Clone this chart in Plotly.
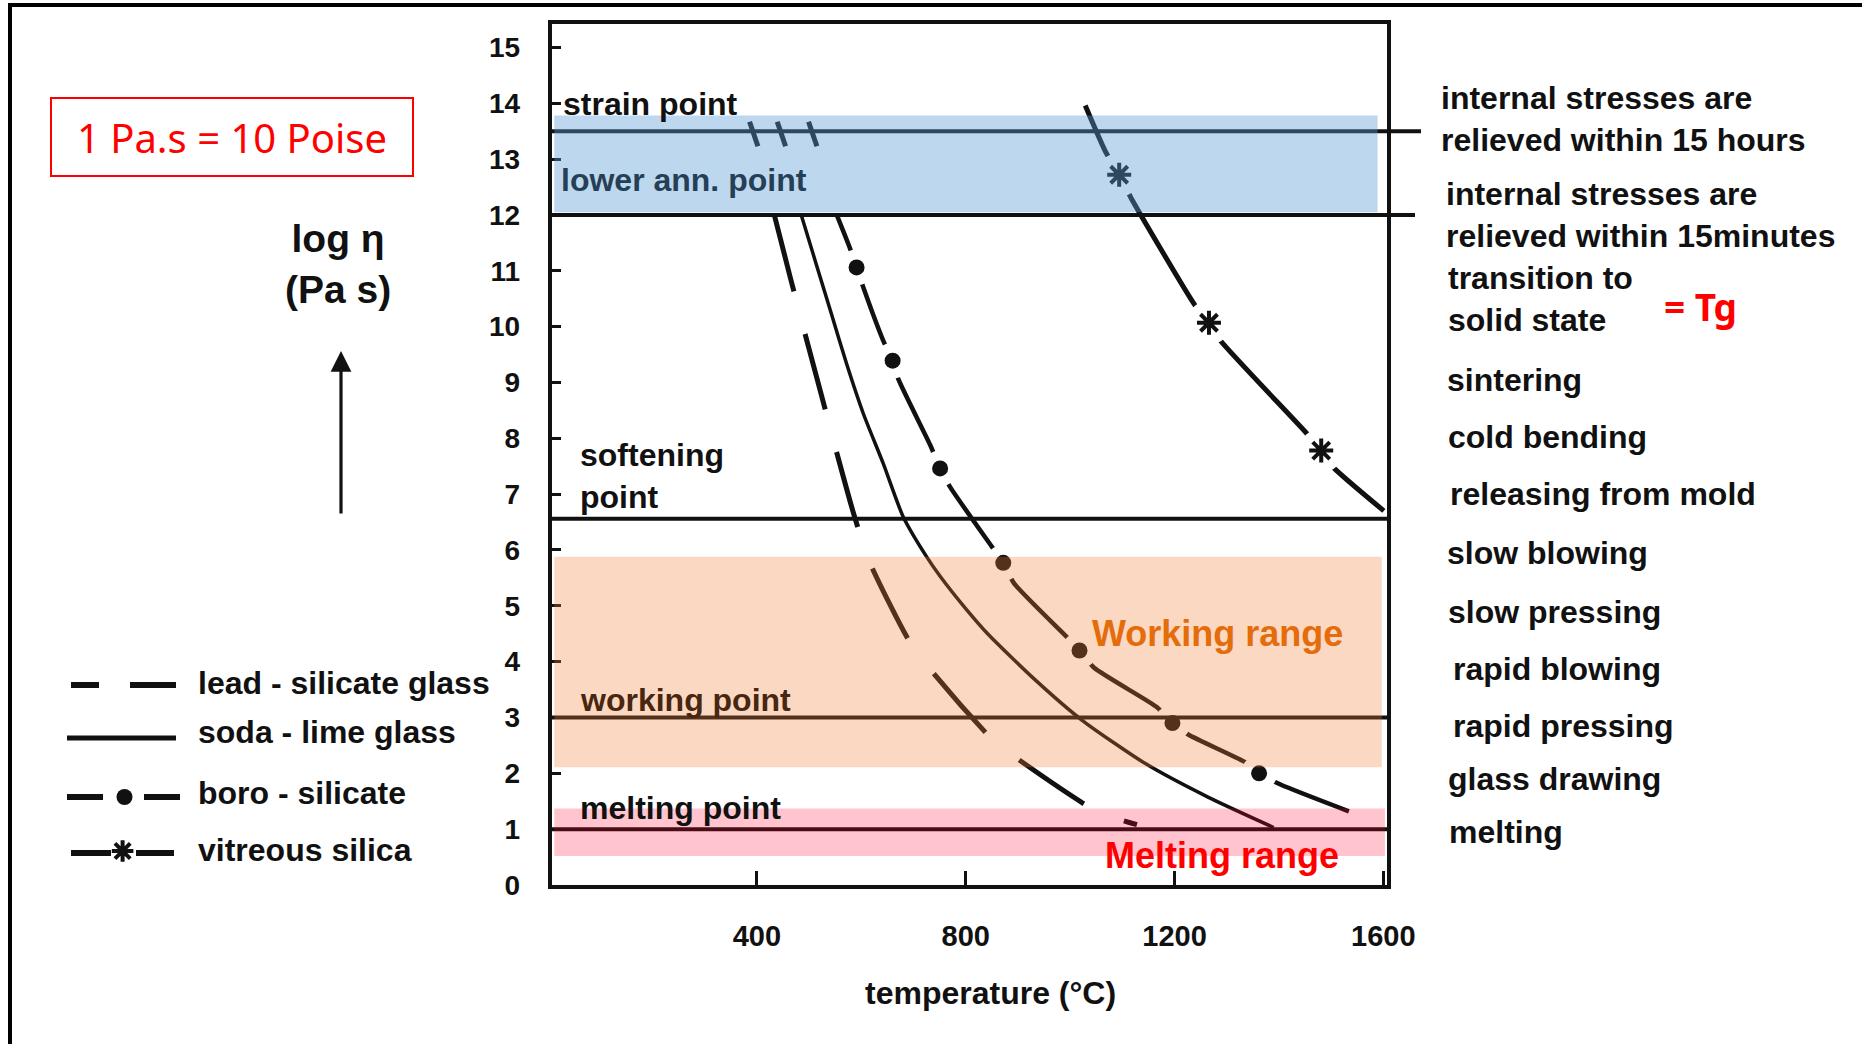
import plotly.graph_objects as go

W, H = 1862, 1044
INK = "#111111"

# ---------------- data ----------------
# lead-silicate glass (long dashes)
lead_T = [434, 464, 488, 522, 545, 586, 616, 693, 743, 853, 919, 1051, 1128]
lead_logeta = [11.98, 10.88, 10.02, 8.83, 8.02, 6.63, 5.78, 4.35, 3.74, 2.59, 2.13, 1.32, 1.08]

# soda-lime glass (solid)
soda_T = [485, 514, 543, 572, 604, 642, 680, 725, 751, 800, 842, 930, 1023, 1145, 1265, 1390]
soda_logeta = [12.0, 11.11, 10.22, 9.33, 8.44, 7.55, 6.60, 5.88, 5.53, 4.95, 4.50, 3.70, 2.95,
               2.17, 1.57, 1.03]

# boro-silicate (dash - dot)
boro_T = [553, 578, 591, 604, 642, 660, 671, 732, 751, 770, 850, 872, 892, 996, 1018,
          1046, 1167, 1196, 1227, 1337, 1362, 1403, 1534]
boro_logeta = [12.0, 11.41, 11.06, 10.70, 9.75, 9.39, 9.06, 7.88, 7.46, 7.13, 6.06, 5.77, 5.41,
               4.42, 4.20, 3.89, 3.18, 2.90, 2.69, 2.19, 2.00, 1.80, 1.32]
boro_dot_T = [591, 660, 751, 872, 1018, 1196, 1362]
boro_dot_logeta = [11.06, 9.39, 7.46, 5.77, 4.20, 2.90, 2.00]

# vitreous silica (dash - star)
silica_T = [1029, 1068, 1094, 1117, 1238, 1266, 1287, 1452, 1481, 1502, 1601]
silica_logeta = [13.96, 13.13, 12.72, 12.30, 10.40, 10.07, 9.76, 8.10, 7.78, 7.50, 6.70]
silica_star_T = [1094, 1266, 1481]
silica_star_logeta = [12.72, 10.07, 7.78]

# short crossings of the three glasses at the strain point
strain_cross_T = [386, 402, None, 439, 455, None, 499, 515]
strain_cross_logeta = [13.67, 13.23, None, 13.67, 13.23, None, 13.67, 13.23]

# reference viscosity levels (log eta)
strain_level = 13.5
lower_ann_level = 12.0
softening_level = 6.56
working_level = 3.0
melting_level = 1.0

# shaded ranges (log eta)
annealing_range = [12.05, 13.78]
working_range = [2.11, 5.88]
melting_range = [0.52, 1.37]

x_tick_vals = [400, 800, 1200, 1600]
y_tick_vals = list(range(0, 16))
right_tick_vals = [13.5, 12, 11, 9, 8, 7, 6, 5, 4, 3, 2, 1]

right_texts = [
    "internal stresses are<br>relieved within 15 hours",
    "internal stresses are<br>relieved within 15minutes",
    "transition to<br>solid state",
    "sintering",
    "cold bending",
    "releasing from mold",
    "slow blowing",
    "slow pressing",
    "rapid blowing",
    "rapid pressing",
    "glass drawing",
    "melting",
]
legend_texts = ["lead - silicate glass", "soda - lime glass", "boro - silicate", "vitreous silica"]

# ---------------- layout helpers ----------------
def fx(px):
    return px / W


def fy(py):
    return 1 - py / H


X_L, X_R, Y_T, Y_B = 551.7, 1387.0, 24.0, 885.0
X_RANGE = [7, 1607]
Y_RANGE = [0, 15.42]

fig = go.Figure()

# ---------------- curves ----------------
fig.add_trace(go.Scatter(
    x=lead_T, y=lead_logeta, mode="lines", hoverinfo="skip",
    line=dict(color=INK, width=5, dash="78px,44px", shape="spline", smoothing=0.6)))
fig.add_trace(go.Scatter(
    x=soda_T, y=soda_logeta, mode="lines", hoverinfo="skip",
    line=dict(color=INK, width=3.5, shape="spline", smoothing=0.6)))
fig.add_trace(go.Scatter(
    x=boro_T, y=boro_logeta, mode="lines", hoverinfo="skip",
    line=dict(color=INK, width=4.5, shape="spline", smoothing=0.6)))
fig.add_trace(go.Scatter(
    x=boro_dot_T, y=boro_dot_logeta, mode="markers", hoverinfo="skip",
    marker=dict(size=36, color="white", line=dict(width=0))))
fig.add_trace(go.Scatter(
    x=boro_dot_T, y=boro_dot_logeta, mode="markers", hoverinfo="skip",
    marker=dict(size=16, color=INK, line=dict(width=0))))
fig.add_trace(go.Scatter(
    x=silica_T, y=silica_logeta, mode="lines", hoverinfo="skip",
    line=dict(color=INK, width=5, shape="spline", smoothing=0.6)))
fig.add_trace(go.Scatter(
    x=silica_star_T, y=silica_star_logeta, mode="markers", hoverinfo="skip",
    marker=dict(size=44, color="white", line=dict(width=0))))
fig.add_trace(go.Scatter(
    x=silica_star_T, y=silica_star_logeta, mode="markers", hoverinfo="skip",
    marker=dict(symbol="asterisk", size=20, color=INK, line=dict(width=4, color=INK))))
fig.add_trace(go.Scatter(
    x=strain_cross_T, y=strain_cross_logeta, mode="lines", hoverinfo="skip",
    line=dict(color=INK, width=5)))

# ---------------- legend samples (helper axes x2 / y3, pixel-like units) ----------------
LEG = dict(xaxis="x2", yaxis="y3", hoverinfo="skip")
fig.add_trace(go.Scatter(x=[71, 99, None, 130, 176], y=[685, 685, None, 685, 685],
                         mode="lines", line=dict(color=INK, width=6), **LEG))
fig.add_trace(go.Scatter(x=[67, 176], y=[738, 738], mode="lines",
                         line=dict(color=INK, width=5), **LEG))
fig.add_trace(go.Scatter(x=[67, 103, None, 144, 180], y=[797, 797, None, 797, 797],
                         mode="lines", line=dict(color=INK, width=6), **LEG))
fig.add_trace(go.Scatter(x=[124.5], y=[797], mode="markers",
                         marker=dict(size=16, color=INK), **LEG))
fig.add_trace(go.Scatter(x=[71, 111, None, 136, 174], y=[853, 853, None, 853, 853],
                         mode="lines", line=dict(color=INK, width=6), **LEG))
fig.add_trace(go.Scatter(x=[122.6], y=[851], mode="markers",
                         marker=dict(symbol="asterisk", size=18, color=INK,
                                     line=dict(width=4, color=INK)), **LEG))

# ---------------- reference lines and shaded ranges ----------------
shapes = []
for lvl, x1px in [(strain_level, 1421), (lower_ann_level, 1415), (softening_level, X_R),
                  (working_level, X_R), (melting_level, X_R)]:
    shapes.append(dict(type="line", xref="paper", yref="y", x0=fx(X_L), x1=fx(x1px),
                       y0=lvl, y1=lvl, line=dict(color=INK, width=4), layer="above"))
for (lo, hi), col, xr in [(annealing_range, "rgba(91,155,213,0.40)", 1589),
                          (working_range, "rgba(237,125,49,0.30)", 1597),
                          (melting_range, "rgba(255,0,40,0.23)", 1603)]:
    shapes.append(dict(type="rect", xref="x", yref="y", x0=12, x1=xr, y0=lo, y1=hi,
                       fillcolor=col, line=dict(width=0), layer="above"))
# slide frame
shapes.append(dict(type="line", xref="paper", yref="paper", x0=fx(8), x1=1, y0=fy(5), y1=fy(5),
                   line=dict(color="black", width=4)))
shapes.append(dict(type="line", xref="paper", yref="paper", x0=fx(10), x1=fx(10), y0=fy(3), y1=0,
                   line=dict(color="black", width=4)))

# ---------------- text ----------------
BOLD = dict(family="Liberation Sans, Arial, sans-serif", size=32, color=INK, weight="bold")
ann = []


def txt(text, px, py, xanchor="left", font=None, **kw):
    f = dict(BOLD)
    if font:
        f.update(font)
    ann.append(dict(text=text, x=fx(px), y=fy(py), xref="paper", yref="paper",
                    xanchor=xanchor, yanchor="middle", showarrow=False,
                    align="center" if xanchor == "center" else xanchor, font=f, **kw))


# labels inside the plot
txt("strain point", 561, 104)
txt("lower ann. point", 559, 180, font=dict(color="#253f56"))
txt("softening<br>point", 578, 476)
txt("working point", 578, 700, font=dict(color="#48260f"))
txt("melting point", 578, 808)
txt("Working range", 1217, 633, xanchor="center", font=dict(color="#E46C0A", size=36))
txt("Melting range", 1222, 855, xanchor="center", font=dict(color="#FF0000", size=36))

# right-hand explanations
right_pos = [(1439, 119), (1444, 215), (1446, 299), (1445, 380), (1446, 437), (1448, 494),
             (1445, 553), (1446, 612), (1451, 669), (1451, 726), (1446, 779), (1447, 832)]
for t, (px, py) in zip(right_texts, right_pos):
    txt(t, px, py)
txt("= Tg", 1700, 307, xanchor="center",
    font=dict(family="Noto Sans, sans-serif", size=37, color="#FF0000"))

# legend labels
for t, py in zip(legend_texts, [683, 732, 793, 850]):
    txt(t, 196, py)

# axis titles
txt("temperature (°C)", 990, 993, xanchor="center")
txt("log η<br>(Pa s)", 338, 264, xanchor="center", font=dict(size=39))
ann.append(dict(text="", x=fx(341), y=fy(351), xref="paper", yref="paper", showarrow=True,
                ax=0, ay=164, arrowhead=2, arrowsize=1.3, arrowwidth=3.2, arrowcolor=INK,
                standoff=0, startstandoff=0))

# conversion note
ann.append(dict(text="1 Pa.s = 10 Poise", x=fx(232.4), y=fy(137.5), xref="paper", yref="paper",
                showarrow=False, xanchor="center", yanchor="middle",
                font=dict(family="Noto Sans, sans-serif", size=40, color="#FF0000"),
                bordercolor="#FF0000", borderwidth=2, borderpad=2, width=356, height=72,
                bgcolor="white"))

TICKFONT = dict(family="Liberation Sans, Arial, sans-serif", color=INK, weight="bold")

fig.update_layout(
    width=W, height=H, margin=dict(l=0, r=0, t=0, b=0, autoexpand=False), autosize=False,
    paper_bgcolor="white", plot_bgcolor="white", showlegend=False,
    xaxis=dict(domain=[fx(X_L), fx(X_R)], range=X_RANGE, tickvals=x_tick_vals,
               ticks="inside", ticklen=14, tickwidth=3, tickcolor=INK,
               showline=True, linewidth=4, linecolor=INK, mirror=True,
               showgrid=False, zeroline=False, ticklabelstandoff=22, automargin=False,
               tickfont=dict(TICKFONT, size=29)),
    yaxis=dict(domain=[fy(Y_B), fy(Y_T)], range=Y_RANGE, tickvals=y_tick_vals,
               ticks="inside", ticklen=9, tickwidth=3, tickcolor=INK,
               showline=True, linewidth=4, linecolor=INK, mirror=True,
               showgrid=False, zeroline=False, ticklabelstandoff=22, automargin=False,
               tickfont=dict(TICKFONT, size=28)),
    yaxis2=dict(overlaying="y", anchor="x", side="right", range=Y_RANGE,
                tickvals=right_tick_vals, ticks="outside", ticklen=28, tickwidth=3,
                tickcolor=INK, showticklabels=False, showline=False, showgrid=False,
                zeroline=False, automargin=False),
    xaxis2=dict(domain=[fx(60), fx(200)], range=[60, 200], visible=False, anchor="y3"),
    yaxis3=dict(domain=[fy(880), fy(660)], range=[880, 660], visible=False, anchor="x2"),
    shapes=shapes, annotations=ann,
)

fig.write_html(
    "out.html",
    config={"displayModeBar": False, "responsive": False},
    post_script=("document.documentElement.style.overflow='hidden';"
                 "document.body.style.margin='0';document.body.style.overflow='hidden';"),
)
